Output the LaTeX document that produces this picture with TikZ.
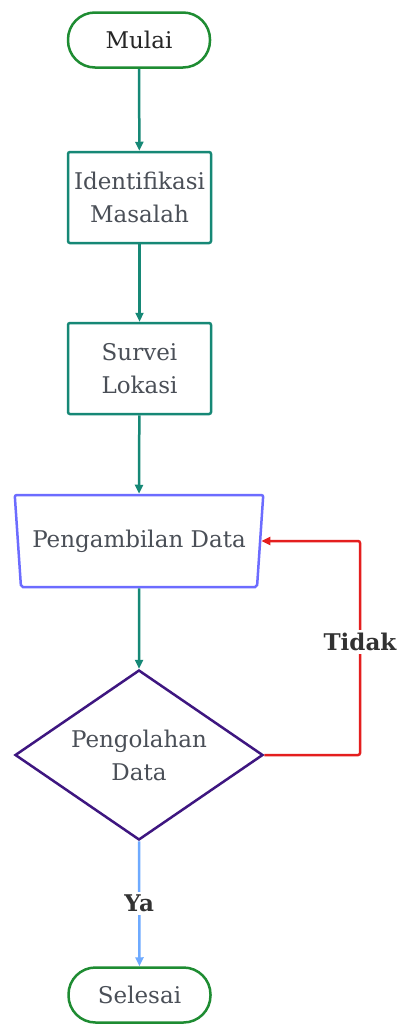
\documentclass[tikz,border=0pt]{standalone}
\usepackage{fontspec}
\setmainfont{DejaVu Serif}
\usetikzlibrary{shapes.geometric,arrows.meta}
\definecolor{cgreen}{RGB}{30,140,50}
\definecolor{cteal}{RGB}{22,136,118}
\definecolor{ctrap}{RGB}{108,108,255}
\definecolor{cdia}{RGB}{62,22,128}
\definecolor{cred}{RGB}{228,30,30}
\definecolor{cblue}{RGB}{110,170,255}
\definecolor{ctext}{RGB}{74,79,87}
\definecolor{clabel}{RGB}{50,50,50}
\tikzset{
  txt/.style={font=\fontsize{23}{33}\selectfont, text=ctext, align=center, inner sep=0pt},
  term/.style={txt, draw=cgreen, line width=2.5pt, rectangle, rounded corners=27pt, minimum width=142pt, minimum height=55pt},
  proc/.style={txt, draw=cteal, line width=2.5pt, rectangle, rounded corners=2pt, minimum width=143pt, minimum height=91pt},
  trap/.style={txt, draw=ctrap, line width=2.5pt, trapezium, trapezium left angle=104, trapezium right angle=104, trapezium stretches=true, minimum width=249pt, minimum height=92pt, rounded corners=2pt},
  dec/.style={txt, draw=cdia, line width=2.5pt, diamond, aspect=1.46, minimum width=248pt, minimum height=170pt},
  flow/.style={line width=2.5pt, -{Triangle[length=9pt,width=8pt]}},
  lbl/.style={font=\fontsize{23}{26}\selectfont\bfseries, text=clabel, fill=white, inner sep=3pt}
}
\begin{document}
\begin{tikzpicture}[x=1pt,y=-1pt]
\useasboundingbox[fill=white] (0,0) rectangle (400,1026);
\node[term, text=black!85] (mulai) at (139,40) {Mulai};
\node[proc] (ident) at (139.5,197.5) {Identifikasi\\Masalah};
\node[proc] (survei) at (139.5,368.5) {Survei\\Lokasi};
\node[trap] (ambil) at (139,541) {Pengambilan Data};
\node[dec] (olah) at (139,755) {Pengolahan\\Data};
\node[term] (selesai) at (139.5,995) {Selesai};
\coordinate (loop) at (360,541);
\draw[flow, cteal] (mulai) -- (ident);
\draw[flow, cteal] (ident) -- (survei);
\draw[flow, cteal] (survei) -- (ambil.north);
\draw[flow, cteal] (ambil.south) -- (olah.north);
\draw[flow, cred, rounded corners=2pt] (olah.east) -| (loop) -- (ambil.east);
\node[lbl] (tidak) at (360,642) {Tidak};
\draw[flow, cblue] (olah.south) -- node[lbl] (ya) {Ya} (selesai.north);
\end{tikzpicture}
\end{document}
